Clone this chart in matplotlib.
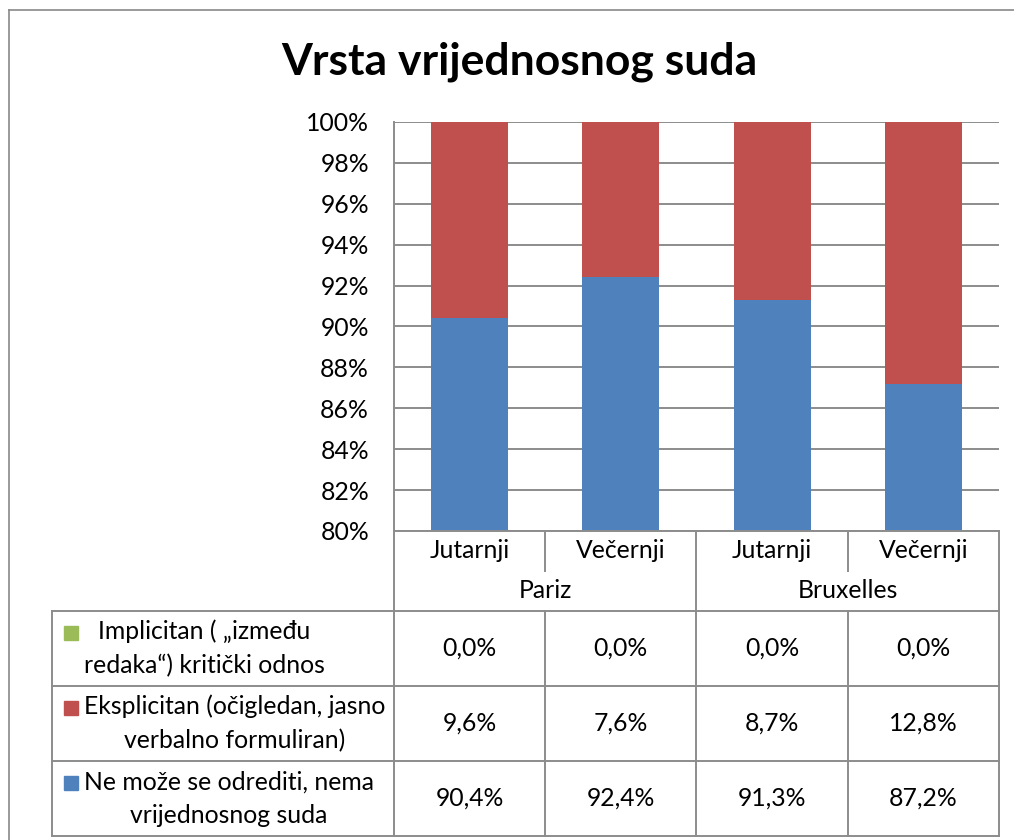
import matplotlib.pyplot as plt
from matplotlib.lines import Line2D
from matplotlib.patches import Rectangle

# data
categories = ['Jutarnji', 'Večernji', 'Jutarnji', 'Večernji']
groups = ['Pariz', 'Bruxelles']
series_names = ['Implicitan ( „između\nredaka“) kritički odnos',
                'Eksplicitan (očigledan, jasno\nverbalno formuliran)',
                'Ne može se odrediti, nema\nvrijednosnog suda']
implicitan = [0.0, 0.0, 0.0, 0.0]
eksplicitan = [9.6, 7.6, 8.7, 12.8]
ne_moze = [90.4, 92.4, 91.3, 87.2]
colors = ['#9BBB59', '#C0504D', '#4F81BD']

plt.rcParams['font.family'] = ['Lato', 'DejaVu Sans']
W, H = 1014, 840
GRID = '#8C8C8C'
FS = 17.8

fig = plt.figure(figsize=(W / 100, H / 100), dpi=100)

def fx(x):
    return x / W

def fy(y):
    return 1 - y / H

# outer chart frame
fig.add_artist(Line2D([fx(9), fx(9)], [fy(10), fy(845)], color='#898989', lw=1.2))
fig.add_artist(Line2D([fx(9), fx(1020)], [fy(10), fy(10)], color='#898989', lw=1.2))

# plot area
L, R, T, B = 394, 999, 122, 531
ax = fig.add_axes([fx(L), fy(B), fx(R - L), fy(T) - fy(B)])
x = range(len(categories))
ax.bar(x, ne_moze, width=0.51, color=colors[2], zorder=3)
ax.bar(x, eksplicitan, width=0.51, bottom=ne_moze, color=colors[1], zorder=3)
bottom2 = [a + b for a, b in zip(ne_moze, eksplicitan)]
ax.bar(x, implicitan, width=0.51, bottom=bottom2, color=colors[0], zorder=3)
ax.set_xlim(-0.5, 3.5)
ax.set_ylim(80, 100)
ax.set_yticks(range(80, 101, 2))
ax.set_yticklabels([f'{v}%' for v in range(80, 101, 2)], fontsize=FS)
ax.tick_params(axis='y', length=0, pad=18)
ax.set_xticks([])
ax.grid(axis='y', color=GRID, lw=1.4, zorder=0)
for s in ['top', 'right', 'bottom']:
    ax.spines[s].set_visible(False)
ax.spines['left'].set_color(GRID)
ax.spines['left'].set_linewidth(1.4)

fig.text(fx(519), fy(62), 'Vrsta vrijednosnog suda', fontsize=32,
         fontweight='bold', ha='center', va='center')

# data table
TL = 52
tax = fig.add_axes([fx(TL), fy(836), fx(R - TL), fy(531) - fy(836)])
tax.set_xlim(TL, R)
tax.set_ylim(836, 531)
tax.axis('off')
slot = (R - L) / len(categories)
rows = [611, 686, 761, 836]

def hline(y, x0, x1):
    tax.add_line(Line2D([x0, x1], [y, y], color=GRID, lw=1.4, clip_on=False))

def vline(x0, y0, y1):
    tax.add_line(Line2D([x0, x0], [y0, y1], color=GRID, lw=1.4, clip_on=False))

hline(531, L, R)
for y in rows:
    hline(y, TL, R)
vline(TL, 611, 836)
vline(L, 531, 836)
vline(R, 531, 836)
vline(L + 2 * slot, 531, 836)
for i in (1, 3):
    vline(L + i * slot, 531, 571)
    vline(L + i * slot, 611, 836)

for i, c in enumerate(categories):
    tax.text(L + (i + 0.5) * slot, 551, c, ha='center', va='center', fontsize=FS)
for j, g in enumerate(groups):
    tax.text(L + (2 * j + 1) * slot, 591, g, ha='center', va='center', fontsize=FS)

table_vals = [implicitan, eksplicitan, ne_moze]
for r, (name, vals, col) in enumerate(zip(series_names, table_vals, colors)):
    ytop, ybot = rows[r], rows[r + 1]
    ymid = (ytop + ybot) / 2
    tax.add_patch(Rectangle((64, ymid - 23), 14, 14, color=col, clip_on=False))
    tax.text(84, ymid, name, ha='left', va='center', multialignment='center',
             fontsize=FS, linespacing=1.55)
    for i, v in enumerate(vals):
        tax.text(L + (i + 0.5) * slot, ymid, f'{v:.1f}%'.replace('.', ','),
                 ha='center', va='center', fontsize=FS)

fig.savefig('out.png', dpi=100)
